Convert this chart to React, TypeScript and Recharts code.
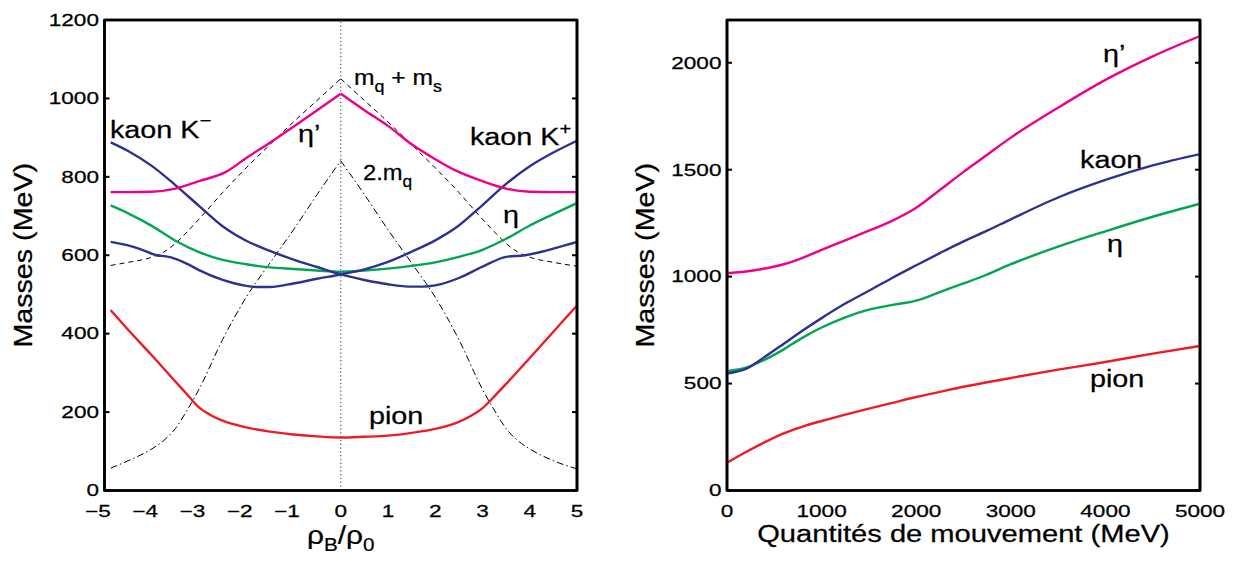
import React from 'react';
import { LineChart, Line, XAxis, YAxis, ReferenceLine, ReferenceDot, ReferenceArea } from 'recharts';

// ---------------- ticks ----------------
const densityTicks = [-5, -4, -3, -2, -1, 0, 1, 2, 3, 4, 5];
const leftMassTicks = [0, 200, 400, 600, 800, 1000, 1200];
const momentumTicks = [0, 1000, 2000, 3000, 4000, 5000];
const rightMassTicks = [0, 500, 1000, 1500, 2000];

// ---------------- left panel: masses vs rho_B/rho_0 ----------------
const pionRho = [-4.87, -4.5, -4, -3.5, -3.25, -3, -2.75, -2.5, -2, -1.5, -1, -0.5, 0, 0.5, 1, 1.5, 2, 2.5, 2.75, 3, 3.25, 3.5, 4, 4.5, 5];
const pionMassRho = [460, 410, 345, 278, 245, 212, 192, 178, 161, 150, 143, 138, 135, 137, 140, 147, 157, 175, 190, 210, 240, 272, 338, 405, 472];

const etaRho = [-4.87, -4.5, -4, -3.5, -3, -2.5, -2, -1.5, -1, -0.5, 0, 0.5, 1, 1.5, 2, 2.5, 3, 3.5, 4, 4.5, 5];
const etaMassRho = [727, 707, 675, 637, 608, 588, 577, 569, 565, 561, 558, 561, 566, 573, 582, 596, 614, 642, 676, 705, 733];

const etaPrimeRhoNeg = [-4.87, -4.5, -4, -3.5, -3, -2.44, -2, -1.5, -1, -0.5, 0];
const etaPrimeMassNeg = [761, 761, 762, 770, 789, 812, 848, 887, 928, 970, 1012];
const etaPrimeRhoPos = [0, 0.5, 1, 1.5, 2, 2.45, 3, 3.5, 4, 4.5, 5];
const etaPrimeMassPos = [1012, 970, 930, 883, 845, 815, 789, 770, 762, 761, 761];

const kaonMinusRho = [-4.87, -4.5, -4, -3.5, -3, -2.5, -2, -1.5, -1, -0.5, 0, 0.5, 1, 1.5, 1.75, 2, 2.5, 3, 3.5, 3.9, 4.25, 4.5, 5];
const kaonMinusMass = [888, 866, 828, 779, 726, 674, 637, 611, 589, 570, 551, 537, 526, 520, 520, 523, 542, 571, 596, 600, 609, 617, 634];

const kaonPlusRho = [-4.87, -4.5, -4.2, -3.9, -3.7, -3.5, -3.25, -3, -2.5, -2, -1.75, -1.5, -1, -0.5, 0, 0.5, 1, 1.5, 2, 2.5, 3, 3.5, 4, 4.5, 5];
const kaonPlusMass = [634, 625, 614, 600, 597, 591, 578, 562, 537, 522, 519, 519, 528, 540, 551, 564, 583, 609, 638, 676, 728, 782, 827, 862, 892];

const mqmsRhoNeg = [-4.87, -4.5, -4, -3.75, -3.5, -3.25, -3, -2.5, -2, -1.5, -1, -0.5, 0];
const mqmsMassNeg = [574, 582, 595, 608, 630, 660, 692, 760, 823, 882, 940, 995, 1050];
const mqmsRhoPos = [0, 0.5, 1, 1.5, 2, 2.5, 3, 3.25, 3.5, 3.75, 4, 4.5, 5];
const mqmsMassPos = [1050, 995, 940, 882, 823, 760, 692, 660, 630, 608, 595, 582, 572];

const twoMqRhoNeg = [-4.87, -4.5, -4, -3.75, -3.5, -3.25, -3, -2.5, -2, -1.5, -1, -0.5, 0];
const twoMqMassNeg = [57, 76, 106, 127, 158, 205, 258, 385, 493, 580, 665, 755, 841];
const twoMqRhoPos = [0, 0.5, 1, 1.5, 2, 2.5, 3, 3.25, 3.5, 3.75, 4, 4.5, 5];
const twoMqMassPos = [841, 755, 665, 580, 493, 385, 258, 205, 158, 127, 106, 76, 55];

// ---------------- right panel: masses vs momentum ----------------
const momentum = [0, 200, 400, 600, 800, 1000, 1250, 1500, 1750, 2000, 2250, 2500, 2750, 3000, 3500, 4000, 4500, 5000];
const etaPrimeMom = [1016, 1024, 1038, 1058, 1088, 1125, 1170, 1215, 1262, 1322, 1405, 1490, 1570, 1650, 1790, 1920, 2030, 2125];
const kaonMom = [547, 569, 625, 686, 748, 806, 874, 934, 995, 1053, 1110, 1165, 1215, 1268, 1370, 1452, 1520, 1573];
const etaMom = [558, 574, 612, 660, 715, 762, 810, 846, 868, 888, 928, 968, 1010, 1058, 1140, 1212, 1280, 1341];
const pionMom = [130, 180, 226, 267, 299, 325, 355, 383, 410, 437, 461, 485, 506, 526, 565, 601, 640, 676];

const rightData = momentum.map((p, i) => ({
  p,
  etaPrime: etaPrimeMom[i],
  kaon: kaonMom[i],
  eta: etaMom[i],
  pion: pionMom[i],
}));

const toPts = (xs: number[], ms: number[]) => xs.map((x, i) => ({ x, m: ms[i] }));

// ---------------- styles ----------------
const FONT = "'Liberation Sans', Arial, Helvetica, sans-serif";
const RED = '#ed1c24';
const GREEN = '#00a651';
const BLUE = '#2e3192';
const MAGENTA = '#ec008c';
const FRAME = { stroke: '#000', strokeWidth: 2.6 };
const TICKLINE = { stroke: '#000', strokeWidth: 2 };
const CURVE_W = 2.4;

function SText({ x, y, size, k = 1.25, anchor = 'start', rotate = 0, children }: any) {
  return (
    <text
      transform={`translate(${x},${y}) rotate(${rotate}) scale(${k},1)`}
      x={0}
      y={0}
      fontSize={size}
      fontFamily={FONT}
      textAnchor={anchor}
      fill="#000"
      stroke="#000"
      strokeWidth={0.25}
    >
      {children}
    </text>
  );
}

const NoTick = () => <g />;

const XTick = (props: any) => {
  const { x, y, payload } = props;
  const v = Number(payload.value);
  const neg = v < 0;
  return (
    <SText x={neg ? x + 6.3 : x} y={y + 26} size={16.5} k={1.37} anchor={neg ? 'end' : 'middle'}>
      {neg ? '\u2212' + Math.abs(v) : String(v)}
    </SText>
  );
};

const YTick = (props: any) => {
  const { x, y, payload } = props;
  return (
    <SText x={x - 5.5} y={y + 5.8} size={16.5} k={1.37} anchor="end">
      {String(payload.value)}
    </SText>
  );
};

const getVB = (props: any) => (props && props.viewBox ? props.viewBox : { x: 0, y: 0, width: 0, height: 0 });

const yTitle = (props: any) => {
  const vb = getVB(props);
  return (
    <SText x={vb.x + vb.width - 72.8} y={vb.y + vb.height / 2} size={25.6} k={1.12} anchor="middle" rotate={-90}>
      Masses (MeV)
    </SText>
  );
};

const leftXTitle = (props: any) => {
  const vb = getVB(props);
  return (
    <SText x={vb.x + vb.width / 2} y={vb.y + 53} size={26} k={1.15} anchor="middle">
      ρ<tspan fontSize={18} dy={7}>B</tspan>
      <tspan dy={-7}>/ρ</tspan>
      <tspan fontSize={18} dy={7}>0</tspan>
    </SText>
  );
};

const rightXTitle = (props: any) => {
  const vb = getVB(props);
  return (
    <SText x={vb.x + vb.width / 2} y={vb.y + 51} size={23.3} k={1.25} anchor="middle">
      Quantités de mouvement (MeV)
    </SText>
  );
};

const annot = (content: React.ReactNode, size = 23, k = 1.25) => (p: any) => (
  <SText x={p.cx} y={p.cy} size={size} k={k}>
    {content}
  </SText>
);

const curveProps = { dot: false, isAnimationActive: false, xAxisId: 'main', yAxisId: 'main', dataKey: 'm' } as const;

export default function App() {
  return (
    <div style={{ position: 'absolute', left: 0, top: 0, width: 1239, height: 563, background: '#fff' }}>
      {/* ---------- Left panel ---------- */}
      <div style={{ position: 'absolute', left: 0, top: 0 }}>
        <LineChart width={620} height={563} margin={{ top: 20, right: 43, bottom: 0.5, left: 0.5 }}>
          <XAxis xAxisId="main" dataKey="x" type="number" domain={[-5, 5]} ticks={densityTicks} allowDataOverflow
            interval={0} height={72} stroke="#000" strokeWidth={2.6} axisLine={FRAME} tickLine={false} tickSize={0} tickMargin={0}
            tick={XTick} label={leftXTitle} />
          <XAxis xAxisId="inB" type="number" domain={[-5, 5]} ticks={densityTicks} allowDataOverflow interval={0}
            mirror axisLine={false} tickLine={TICKLINE} tickSize={5} tick={NoTick} />
          <XAxis xAxisId="top" orientation="top" type="number" domain={[-5, 5]} ticks={densityTicks} allowDataOverflow
            interval={0} mirror stroke="#000" strokeWidth={2.6} axisLine={FRAME} tickLine={TICKLINE} tickSize={5} tick={NoTick} />
          <YAxis yAxisId="main" type="number" domain={[0, 1200]} ticks={leftMassTicks} allowDataOverflow interval={0}
            width={104} stroke="#000" strokeWidth={2.6} axisLine={FRAME} tickLine={false} tickSize={0} tickMargin={0} tick={YTick} label={yTitle} />
          <YAxis yAxisId="inL" type="number" domain={[0, 1200]} ticks={leftMassTicks} allowDataOverflow interval={0}
            mirror axisLine={false} tickLine={TICKLINE} tickSize={5} tick={NoTick} />
          <YAxis yAxisId="right" orientation="right" type="number" domain={[0, 1200]} ticks={leftMassTicks}
            allowDataOverflow interval={0} mirror stroke="#000" strokeWidth={2.6} axisLine={FRAME} tickLine={TICKLINE} tickSize={5} tick={NoTick} />

          <ReferenceLine xAxisId="main" yAxisId="main" x={0} stroke="#555" strokeWidth={1.2} strokeDasharray="1.2 2.6" />

          <Line {...curveProps} data={toPts(mqmsRhoNeg, mqmsMassNeg)} type="monotone" stroke="#000" strokeWidth={1} strokeDasharray="5 4" />
          <Line {...curveProps} data={toPts(mqmsRhoPos, mqmsMassPos)} type="monotone" stroke="#000" strokeWidth={1} strokeDasharray="5 4" />
          <Line {...curveProps} data={toPts(twoMqRhoNeg, twoMqMassNeg)} type="monotone" stroke="#000" strokeWidth={1} strokeDasharray="7 3 1.5 3" />
          <Line {...curveProps} data={toPts(twoMqRhoPos, twoMqMassPos)} type="monotone" stroke="#000" strokeWidth={1} strokeDasharray="7 3 1.5 3" />

          <Line {...curveProps} data={toPts(pionRho, pionMassRho)} type="monotone" stroke={RED} strokeWidth={CURVE_W} />
          <Line {...curveProps} data={toPts(etaRho, etaMassRho)} type="monotone" stroke={GREEN} strokeWidth={CURVE_W} />
          <Line {...curveProps} data={toPts(kaonMinusRho, kaonMinusMass)} type="monotone" stroke={BLUE} strokeWidth={CURVE_W} />
          <Line {...curveProps} data={toPts(kaonPlusRho, kaonPlusMass)} type="monotone" stroke={BLUE} strokeWidth={CURVE_W} />
          <Line {...curveProps} data={toPts(etaPrimeRhoNeg, etaPrimeMassNeg)} type="monotone" stroke={MAGENTA} strokeWidth={CURVE_W} />
          <Line {...curveProps} data={toPts(etaPrimeRhoPos, etaPrimeMassPos)} type="monotone" stroke={MAGENTA} strokeWidth={CURVE_W} />

          <ReferenceArea xAxisId="main" yAxisId="main" x1={-5} x2={5} y1={0} y2={1200} fill="none" fillOpacity={0}
            stroke="#000" strokeWidth={2.6} ifOverflow="visible" />

          <ReferenceDot xAxisId="main" yAxisId="main" x={-4.884} y={899} r={1} ifOverflow="visible"
            shape={annot(<>kaon K<tspan fontSize={16} dy={-12}>{'\u2212'}</tspan></>)} />
          <ReferenceDot xAxisId="main" yAxisId="main" x={-0.905} y={889} r={1} ifOverflow="visible"
            shape={annot('η\u2019')} />
          <ReferenceDot xAxisId="main" yAxisId="main" x={0.28} y={1034} r={1} ifOverflow="visible"
            shape={annot(<>m<tspan fontSize={16} dy={7}>q</tspan><tspan dy={-7}> + m</tspan><tspan fontSize={16} dy={7}>s</tspan></>, 22, 1.12)} />
          <ReferenceDot xAxisId="main" yAxisId="main" x={0.471} y={792} r={1} ifOverflow="visible"
            shape={annot(<>2.m<tspan fontSize={16} dy={7}>q</tspan></>, 22, 1.08)} />
          <ReferenceDot xAxisId="main" yAxisId="main" x={2.735} y={881} r={1} ifOverflow="visible"
            shape={annot(<>kaon K<tspan fontSize={16} dy={-11}>+</tspan></>)} />
          <ReferenceDot xAxisId="main" yAxisId="main" x={3.434} y={682} r={1} ifOverflow="visible"
            shape={annot('η')} />
          <ReferenceDot xAxisId="main" yAxisId="main" x={0.598} y={170} r={1} ifOverflow="visible"
            shape={annot('pion')} />
        </LineChart>
      </div>

      {/* ---------- Right panel ---------- */}
      <div style={{ position: 'absolute', left: 620, top: 0 }}>
        <LineChart width={619} height={563} data={rightData} margin={{ top: 20, right: 39, bottom: 0.5, left: 0 }}>
          <XAxis xAxisId="main" dataKey="p" type="number" domain={[0, 5000]} ticks={momentumTicks} allowDataOverflow
            interval={0} height={72} stroke="#000" strokeWidth={2.6} axisLine={FRAME} tickLine={false} tickSize={0} tickMargin={0}
            tick={XTick} label={rightXTitle} />
          <XAxis xAxisId="inB" type="number" domain={[0, 5000]} ticks={momentumTicks} allowDataOverflow interval={0}
            mirror axisLine={false} tickLine={TICKLINE} tickSize={5} tick={NoTick} />
          <XAxis xAxisId="top" orientation="top" type="number" domain={[0, 5000]} ticks={momentumTicks} allowDataOverflow
            interval={0} mirror stroke="#000" strokeWidth={2.6} axisLine={FRAME} tickLine={TICKLINE} tickSize={5} tick={NoTick} />
          <YAxis yAxisId="main" type="number" domain={[0, 2200]} ticks={rightMassTicks} allowDataOverflow interval={0}
            width={107} stroke="#000" strokeWidth={2.6} axisLine={FRAME} tickLine={false} tickSize={0} tickMargin={0} tick={YTick} label={yTitle} />
          <YAxis yAxisId="inL" type="number" domain={[0, 2200]} ticks={rightMassTicks} allowDataOverflow interval={0}
            mirror axisLine={false} tickLine={TICKLINE} tickSize={5} tick={NoTick} />
          <YAxis yAxisId="right" orientation="right" type="number" domain={[0, 2200]} ticks={rightMassTicks}
            allowDataOverflow interval={0} mirror stroke="#000" strokeWidth={2.6} axisLine={FRAME} tickLine={TICKLINE} tickSize={5} tick={NoTick} />

          <Line xAxisId="main" yAxisId="main" dataKey="pion" type="monotone" stroke={RED} strokeWidth={CURVE_W} dot={false} isAnimationActive={false} />
          <Line xAxisId="main" yAxisId="main" dataKey="eta" type="monotone" stroke={GREEN} strokeWidth={CURVE_W} dot={false} isAnimationActive={false} />
          <Line xAxisId="main" yAxisId="main" dataKey="kaon" type="monotone" stroke={BLUE} strokeWidth={CURVE_W} dot={false} isAnimationActive={false} />
          <Line xAxisId="main" yAxisId="main" dataKey="etaPrime" type="monotone" stroke={MAGENTA} strokeWidth={CURVE_W} dot={false} isAnimationActive={false} />

          <ReferenceArea xAxisId="main" yAxisId="main" x1={0} x2={5000} y1={0} y2={2200} fill="none" fillOpacity={0}
            stroke="#000" strokeWidth={2.6} ifOverflow="visible" />

          <ReferenceDot xAxisId="main" yAxisId="main" x={3975} y={2003} r={1} ifOverflow="visible" shape={annot('η\u2019')} />
          <ReferenceDot xAxisId="main" yAxisId="main" x={3732} y={1508} r={1} ifOverflow="visible" shape={annot('kaon')} />
          <ReferenceDot xAxisId="main" yAxisId="main" x={4017} y={1115} r={1} ifOverflow="visible" shape={annot('η')} />
          <ReferenceDot xAxisId="main" yAxisId="main" x={3837} y={484} r={1} ifOverflow="visible" shape={annot('pion')} />
        </LineChart>
      </div>
    </div>
  );
}
